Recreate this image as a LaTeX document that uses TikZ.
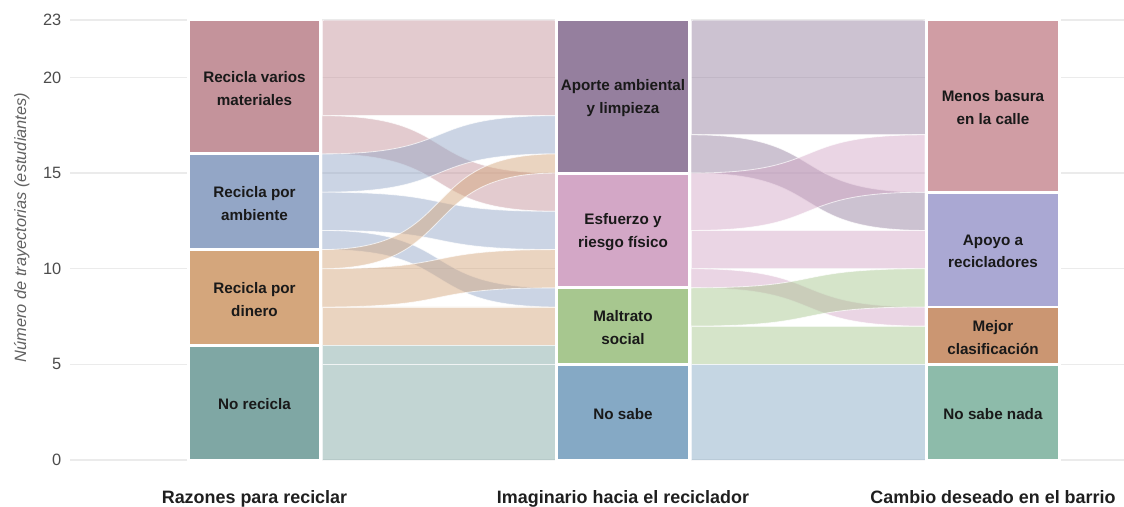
\documentclass[tikz,border=0pt]{standalone}
\usepackage{fontspec}
\setmainfont{Liberation Sans}
\usetikzlibrary{positioning}

\definecolor{cVarios}{HTML}{C4939B}
\definecolor{cAmbiente}{HTML}{93A6C6}
\definecolor{cDinero}{HTML}{D4A67C}
\definecolor{cNoRecicla}{HTML}{7FA7A4}
\definecolor{cAporte}{HTML}{957F9E}
\definecolor{cEsfuerzo}{HTML}{D3A7C6}
\definecolor{cMaltrato}{HTML}{A7C78F}
\definecolor{cNoSabe}{HTML}{85A9C5}
\definecolor{cMenos}{HTML}{D09DA4}
\definecolor{cApoyo}{HTML}{AAA8D3}
\definecolor{cMejor}{HTML}{CB9672}
\definecolor{cNada}{HTML}{8DBBAA}
\definecolor{cGrid}{HTML}{EBEBEB}

\begin{document}
\begin{tikzpicture}[x=0.03cm, y=0.5739cm,
    gridline/.style={draw=cGrid, line width=1.1pt},
    tick/.style={anchor=east, inner sep=0pt, text=black!70, font=\fontsize{14}{16}\selectfont},
    bar/.style={draw=white, line width=2.5pt},
    band/.style={draw=white, draw opacity=0.7, line width=0.7pt, fill opacity=0.48},
    lbl/.style={align=center, inner sep=0pt, yshift=-1.5pt, text=black!90, font=\fontsize{13}{19.5}\selectfont\bfseries},
    axtitle/.style={anchor=base, inner sep=0pt, text=black!88, font=\fontsize{15.3}{18}\selectfont\bfseries}]
	\useasboundingbox (0,-2.4046) rectangle (1124,24.046);

	% rejilla y eje
	\foreach \v in {0,5,10,15,20,23}
		\draw[gridline] (70,\v) -- (1124,\v);
	\foreach \v in {0,5,10,15,20,23}
		\node[tick] (t\v) at (61.5,\v) {\v};
	\node[rotate=90, anchor=base, inner sep=0pt, text=black!62, font=\fontsize{14}{16}\selectfont\itshape] (ylab) at (26,12.15) {Número de trayectorias (estudiantes)};

	% flujos 1 -> 2
	\foreach \c/\a/\b/\p/\q in {cVarios/23/18/23/18, cVarios/18/16/15/13,
			cAmbiente/16/14/18/16, cAmbiente/14/12/13/11, cAmbiente/12/11/9/8,
			cDinero/11/10/16/15, cDinero/10/8/11/9, cDinero/8/6/8/6,
			cNoRecicla/6/5/6/5, cNoRecicla/5/0/5/0}
		\path[band, fill=\c] (322,\a) .. controls (462,\a) and (416,\p) .. (556,\p) -- (556,\q) .. controls (416,\q) and (462,\b) .. (322,\b) -- cycle;

	% flujos 2 -> 3
	\foreach \c/\a/\b/\p/\q in {cAporte/23/17/23/17, cAporte/17/15/14/12,
			cEsfuerzo/15/12/17/14, cEsfuerzo/12/10/12/10, cEsfuerzo/10/9/8/7,
			cMaltrato/9/7/10/8, cMaltrato/7/5/7/5,
			cNoSabe/5/0/5/0}
		\path[band, fill=\c] (691,\a) .. controls (831,\a) and (785,\p) .. (925,\p) -- (925,\q) .. controls (785,\q) and (831,\b) .. (691,\b) -- cycle;

	% barras
	\draw[bar, fill=cVarios] (188.5,16) rectangle (320.5,23);
	\draw[bar, fill=cAmbiente] (188.5,11) rectangle (320.5,16);
	\draw[bar, fill=cDinero] (188.5,6) rectangle (320.5,11);
	\draw[bar, fill=cNoRecicla] (188.5,0) rectangle (320.5,6);
	\draw[bar, fill=cAporte] (556.5,15) rectangle (689.5,23);
	\draw[bar, fill=cEsfuerzo] (556.5,9) rectangle (689.5,15);
	\draw[bar, fill=cMaltrato] (556.5,5) rectangle (689.5,9);
	\draw[bar, fill=cNoSabe] (556.5,0) rectangle (689.5,5);
	\draw[bar, fill=cMenos] (926.5,14) rectangle (1059.5,23);
	\draw[bar, fill=cApoyo] (926.5,8) rectangle (1059.5,14);
	\draw[bar, fill=cMejor] (926.5,5) rectangle (1059.5,8);
	\draw[bar, fill=cNada] (926.5,0) rectangle (1059.5,5);

	\node[lbl] (varios) at (254.5,19.5) {Recicla varios\\materiales};
	\node[lbl] (ambiente) at (254.5,13.5) {Recicla por\\ambiente};
	\node[lbl] (dinero) at (254.5,8.5) {Recicla por\\dinero};
	\node[lbl] (norecicla) at (254.5,3) {No recicla};
	\node[lbl] (aporte) at (623,19) {Aporte ambiental\\y limpieza};
	\node[lbl] (esfuerzo) at (623,12) {Esfuerzo y\\riesgo físico};
	\node[lbl] (maltrato) at (623,7) {Maltrato\\social};
	\node[lbl] (nosabe) at (623,2.5) {No sabe};
	\node[lbl] (menos) at (993,18.5) {Menos basura\\en la calle};
	\node[lbl] (apoyo) at (993,11) {Apoyo a\\recicladores};
	\node[lbl] (mejor) at (993,6.5) {Mejor\\clasificación};
	\node[lbl] (nada) at (993,2.5) {No sabe nada};

	% titulos de los ejes
	\node[axtitle] (eje1) at (254.5,-2.263) {Razones para reciclar};
	\node[axtitle] (eje2) at (623,-2.263) {Imaginario hacia el reciclador};
	\node[axtitle] (eje3) at (993,-2.263) {Cambio deseado en el barrio};
\end{tikzpicture}
\end{document}
